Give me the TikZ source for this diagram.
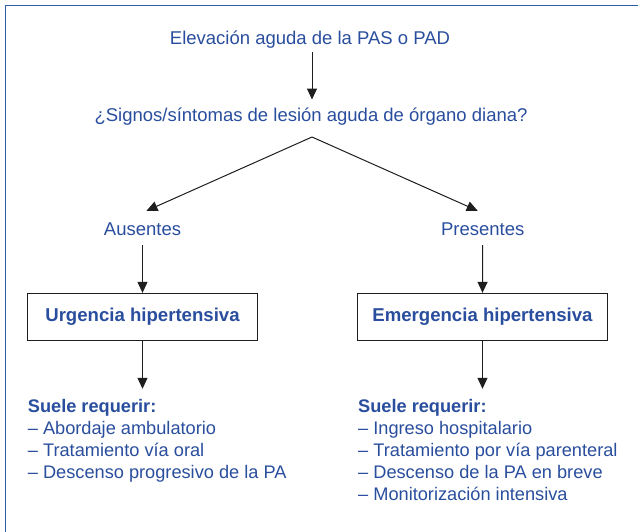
\documentclass[tikz,border=0pt]{standalone}
\usepackage{fontspec}
\setmainfont{Liberation Sans}
\usetikzlibrary{arrows.meta}
\definecolor{txtblue}{RGB}{42,78,158}
\definecolor{frameblue}{RGB}{47,95,170}
\definecolor{linegray}{RGB}{30,30,30}
\tikzset{
  lbl/.style={text=txtblue, font=\fontsize{18.5}{22}\selectfont, inner sep=0pt, text height=13pt, text depth=4pt},
  lst/.style={lbl, anchor=base west, font=\fontsize{18.2}{22}\selectfont},
  hdr/.style={lst, font=\fontsize{18.2}{22}\selectfont\bfseries},
  box/.style={draw=linegray, line width=1pt, text=txtblue, font=\fontsize{18.6}{22}\selectfont\bfseries, minimum width=230.4pt, minimum height=46.7pt, inner sep=0pt},
  arr/.style={draw=linegray, line width=1pt, -{Triangle[length=11pt,width=10pt]}},
  ln/.style={draw=linegray, line width=1pt}
}
\begin{document}
\begin{tikzpicture}[x=1pt,y=-1pt]
\useasboundingbox (0,0) rectangle (638,531);
\fill[white] (0,0) rectangle (638,531);
\draw[frameblue, line width=1.6pt] (5.5,540) -- (5.5,5.5) -- (650,5.5);

\node[lbl, anchor=base] (e) at (310,44) {Elevación aguda de la PAS o PAD};
\node[lbl, anchor=base] (s) at (311,121.7) {¿Signos/síntomas de lesión aguda de órgano diana?};
\coordinate (apex) at (312,137);
\node[lbl, anchor=base] (a) at (142.5,235) {Ausentes};
\node[lbl, anchor=base] (p) at (482.7,235) {Presentes};
\node[box] (u) at (142.5,316.7) {Urgencia hipertensiva};
\node[box, minimum width=250.4pt] (m) at (482.5,316.7) {Emergencia hipertensiva};

\node[hdr] (l1) at (27.7,412) {Suele requerir:};
\node[lst] (l2) at (27.7,434.2) {– Abordaje ambulatorio};
\node[lst] (l3) at (27.7,456.4) {– Tratamiento vía oral};
\node[lst] (l4) at (27.7,478.6) {– Descenso progresivo de la PA};

\node[hdr] (r1) at (358,412) {Suele requerir:};
\node[lst] (r2) at (358,434.2) {– Ingreso hospitalario};
\node[lst] (r3) at (358,456.4) {– Tratamiento por vía parenteral};
\node[lst] (r4) at (358,478.6) {– Descenso de la PA en breve};
\node[lst] (r5) at (358,500.8) {– Monitorización intensiva};

\draw[arr] ([yshift=-4pt]e.south -| apex) -- ([yshift=9pt]s.north -| apex);
\draw[arr] (apex) -- ([xshift=4pt,yshift=11pt]a.north);
\draw[arr] (apex) -- ([xshift=-5pt,yshift=11pt]p.north);
\draw[arr] ([yshift=-6pt]a.south) -- (u.north);
\draw[arr] ([yshift=-6pt]p.south) -- (m.north);
\draw[arr, shorten >=10pt] (u.south) -- (u.south |- l1.north);
\draw[arr, shorten >=10pt] (m.south) -- (m.south |- r1.north);
\end{tikzpicture}
\end{document}
